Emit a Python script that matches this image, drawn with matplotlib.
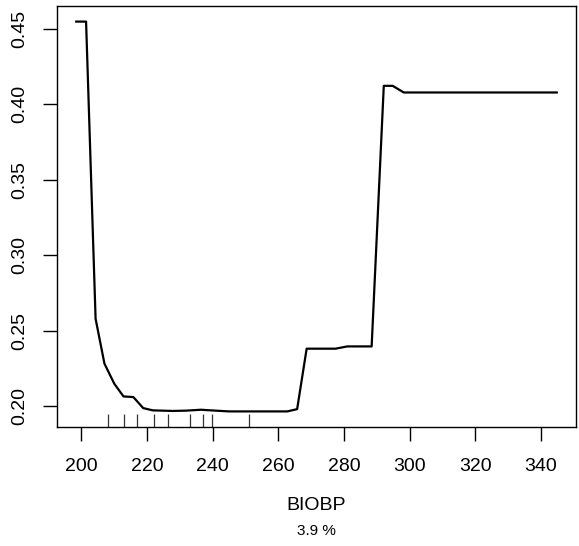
import matplotlib
matplotlib.use("Agg")
import matplotlib.pyplot as plt

plt.rcParams["font.family"] = ["Liberation Sans", "DejaVu Sans"]

# partial dependence curve
biobp = [198.4, 201.4, 204.3, 207.0, 210.0, 212.8, 215.8, 218.8, 221.7,
         227.8, 231.8, 236.4, 240.9, 245.0, 262.7, 265.7, 268.6, 277.4,
         281.0, 288.4, 292.1, 294.8, 298.2, 344.8]
effect = [0.4546, 0.4546, 0.258, 0.2283, 0.215, 0.2066, 0.2062, 0.1989,
          0.1974, 0.1970, 0.1972, 0.1978, 0.1972, 0.1967, 0.1967, 0.1982,
          0.2382, 0.2382, 0.2397, 0.2397, 0.4121, 0.4121, 0.4077, 0.4077]

# rug (deciles of BIOBP)
rug_x = [208.0, 213.1, 217.0, 222.0, 226.5, 233.1, 237.0, 239.9, 250.9]

x_ticks = [200, 220, 240, 260, 280, 300, 320, 340]
y_ticks = [0.20, 0.25, 0.30, 0.35, 0.40, 0.45]
x_label = "BIOBP"
rel_inf = "3.9 %"

fig = plt.figure(figsize=(5.79, 5.46), dpi=100)
ax = fig.add_axes([57 / 579, 1 - 427 / 546, 519 / 579, 421 / 546])

ax.plot(biobp, effect, color="black", lw=1.6)

# R-style 4% padding on the data range
xr = max(biobp) - min(biobp)
yr = max(effect) - min(effect)
ax.set_xlim(min(biobp) - 0.04 * xr, max(biobp) + 0.04 * xr)
ax.set_ylim(min(effect) - 0.04 * yr, max(effect) + 0.04 * yr)

# rug ticks, 3% of the plot height
ax.vlines(rug_x, 0, 0.03, color="#333333", lw=0.9,
          transform=ax.get_xaxis_transform())

ax.set_xticks(x_ticks)
ax.set_xticklabels([str(v) for v in x_ticks])
ax.set_yticks(y_ticks)
ax.set_yticklabels([f"{v:.2f}" for v in y_ticks], rotation=90, va="center")

ax.tick_params(axis="both", direction="out", length=10, width=1.0,
               labelsize=14)
ax.tick_params(axis="x", pad=12.5)
ax.tick_params(axis="y", pad=11)
for s in ax.spines.values():
    s.set_linewidth(1.0)

ax.set_xlabel(x_label, fontsize=14, labelpad=16)
fig.text(316 / 579, 1 - 531 / 546, rel_inf, ha="center", va="center",
         fontsize=11)

fig.savefig("out.png", dpi=100)
